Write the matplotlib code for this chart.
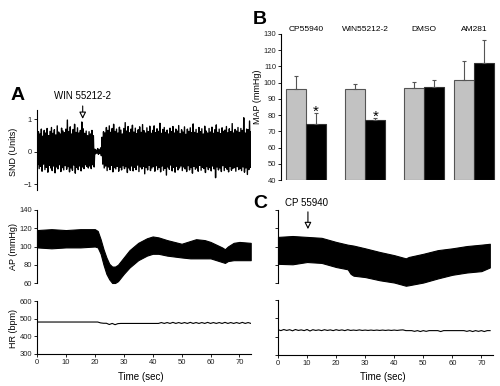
import numpy as np
import matplotlib
matplotlib.use('Agg')
import matplotlib.pyplot as plt

plt.rcParams['font.family'] = ['Liberation Sans', 'DejaVu Sans']

# ---- panel B data (MAP, mmHg) ----
groups = ['CP55940', 'WIN55212-2', 'DMSO', 'AM281']
group_pos = [0.0, 1.0, 1.99, 2.83]
map_before = [96.2, 96.0, 96.6, 101.8]
map_before_err = [8.0, 3.0, 4.0, 11.8]
map_after = [74.8, 76.8, 97.3, 112.2]
map_after_err = [6.8, 1.5, 4.5, 14.3]
significant = [True, True, False, False]

# ---- panel A: SND trace, peak/trough every 0.5 s ----
snd_high = [0.45, 0.62, 0.55, 0.70, 0.48, 0.66, 0.58, 0.72, 0.50, 0.63, 0.75, 0.57, 0.68, 0.52, 0.80, 0.61, 0.55, 0.73, 0.64, 0.59,
            0.70, 0.98, 0.62, 0.77, 0.55, 0.69, 0.85, 0.60, 0.74, 0.58, 0.66, 0.92, 0.71, 0.57, 0.64, 0.50, 0.62, 0.55, 0.66, 0.50,
            0.08, 0.05, 0.10, 0.06, 0.12, 0.45, 0.62, 0.58, 0.75, 0.66, 0.80, 0.60, 0.72, 0.85, 0.63, 0.70, 0.58, 0.76, 0.67, 0.55,
            0.72, 0.90, 0.64, 0.78, 0.59, 0.70, 0.82, 0.61, 0.73, 0.56, 0.68, 0.77, 0.60, 0.84, 0.65, 0.58, 0.74, 0.62, 0.79, 0.57,
            0.66, 0.80, 0.59, 0.71, 0.63, 0.88, 0.57, 0.69, 0.75, 0.60, 0.67, 0.55, 0.73, 0.62, 0.78, 0.58, 0.70, 0.64, 0.81, 0.56,
            0.68, 0.61, 0.77, 0.54, 0.70, 0.63, 0.74, 0.59, 0.86, 0.60, 0.69, 0.57, 0.75, 0.62, 0.71, 0.55, 0.79, 0.64, 0.58, 0.72,
            0.61, 0.76, 0.57, 0.68, 0.83, 0.60, 0.70, 0.56, 0.74, 0.63, 0.67, 0.78, 0.59, 0.71, 0.62, 0.87, 0.58, 0.69, 0.64, 0.75,
            0.60, 0.72, 0.66, 1.05, 0.58, 0.70, 0.68, 0.95, 0.62]
snd_low = [-0.40, -0.52, -0.45, -0.60, -0.38, -0.55, -0.48, -0.63, -0.42, -0.50, -0.58, -0.44, -0.65, -0.47, -0.53, -0.40, -0.61, -0.49, -0.56, -0.43,
           -0.54, -0.46, -0.62, -0.50, -0.57, -0.41, -0.66, -0.48, -0.55, -0.44, -0.59, -0.47, -0.52, -0.40, -0.45, -0.50, -0.44, -0.52, -0.40, -0.47,
           -0.06, -0.04, -0.08, -0.05, -0.12, -0.38, -0.50, -0.44, -0.58, -0.47, -0.55, -0.42, -0.62, -0.49, -0.53, -0.45, -0.60, -0.48, -0.56, -0.43,
           -0.52, -0.46, -0.64, -0.50, -0.57, -0.44, -0.59, -0.48, -0.55, -0.41, -0.61, -0.47, -0.53, -0.45, -0.68, -0.49, -0.56, -0.42, -0.58, -0.50,
           -0.46, -0.60, -0.43, -0.55, -0.49, -0.62, -0.44, -0.57, -0.51, -0.72, -0.47, -0.54, -0.41, -0.59, -0.48, -0.63, -0.45, -0.56, -0.50, -0.44,
           -0.58, -0.47, -0.53, -0.61, -0.43, -0.56, -0.49, -0.66, -0.45, -0.54, -0.50, -0.60, -0.42, -0.57, -0.48, -0.52, -0.64, -0.46, -0.55, -0.49,
           -0.59, -0.44, -0.53, -0.80, -0.47, -0.56, -0.50, -0.61, -0.43, -0.58, -0.48, -0.54, -0.62, -0.45, -0.57, -0.51, -0.49, -0.60, -0.46, -0.55,
           -0.52, -0.58, -0.47, -0.63, -0.50, -0.70, -0.55, -0.48, -0.60]

# ---- panel A: AP envelope (mmHg) ----
apA_t = [0, 5, 10, 15, 20, 21, 22, 23, 24, 25, 26, 27, 28, 30, 32, 35, 38, 40, 42, 45, 50, 53, 55, 58, 60, 62, 64, 65, 66, 68, 70, 73.9]
apA_hi = [118, 119, 118, 119, 119, 117, 108, 97, 88, 81, 78, 78, 80, 88, 96, 104, 109, 111, 110, 107, 103, 106, 108, 107, 105, 102, 99, 97, 100, 104, 105, 104]
apA_lo = [99, 98, 99, 99, 100, 99, 92, 80, 70, 64, 60, 60, 62, 70, 77, 85, 90, 92, 92, 90, 88, 87, 87, 87, 87, 85, 83, 82, 84, 85, 85, 85]

# ---- panel A: HR every 1 s (bpm) ----
hrA = [481, 481, 481, 481, 481, 481, 481, 481, 481, 481, 481, 481, 481, 481, 481, 481, 481, 481, 481, 481, 481, 481,
       476, 474, 474, 467, 473, 466, 472, 473, 473, 473, 473, 473, 473, 473, 473, 473, 473, 473, 473, 473, 473,
       478, 473, 478, 473, 479, 473, 478, 473, 478, 473, 479, 473, 478, 473, 478, 473, 479, 473, 478, 473, 478,
       473, 479, 473, 478, 473, 478, 473, 479, 473, 478, 473]

# ---- panel C: AP envelope (mmHg) ----
apC_t = [0, 5, 10, 15, 20, 24, 25, 26, 30, 35, 40, 44, 45, 50, 55, 60, 65, 70, 72.9]
apC_hi = [110.5, 111.5, 110.5, 109.5, 105, 102, 101.5, 101, 98, 94, 90.5, 87, 88.5, 92, 96, 98, 100.5, 102, 103]
apC_lo = [81, 80.5, 83, 82, 77.5, 75, 70, 68, 66.5, 63, 60.5, 57, 57.5, 60.5, 65, 69, 71.5, 73, 77]

# ---- panel C: HR every 1 s (bpm) ----
hrC = [438, 433, 439, 434, 438, 432, 439, 434, 437, 433, 439, 431, 438, 434, 437, 433, 438, 434, 437, 433,
       438, 434, 437, 433, 438, 434, 436, 434, 437, 434, 436, 434, 436, 434, 436, 434, 436, 434, 436, 434,
       436, 434, 436, 437, 433, 433, 433, 429, 433, 428, 433, 429, 433, 433, 433, 433, 428, 433, 433, 433,
       433, 433, 433, 433, 433, 429, 433, 428, 433, 429, 433, 428, 433, 433]

W, H = 500, 386


def box(x0, y0, x1, y1):
    return [x0 / W, 1 - y1 / H, (x1 - x0) / W, (y1 - y0) / H]


def style(ax, bottom=False):
    for s in ['top', 'right']:
        ax.spines[s].set_visible(False)
    ax.spines['bottom'].set_visible(bottom)
    ax.spines['left'].set_linewidth(0.8)
    ax.spines['bottom'].set_linewidth(0.8)
    ax.tick_params(labelsize=5.5, length=2, width=0.7, pad=1.5, colors='#222222')
    if not bottom:
        ax.tick_params(axis='x', bottom=False, labelbottom=False)
    ax.patch.set_alpha(0)


fig = plt.figure(figsize=(5, 3.86), dpi=100)

# SND
ax = fig.add_axes(box(37, 110, 251, 190))
t_snd = np.arange(len(snd_high)) * 0.5
xs = np.column_stack([t_snd, t_snd + 0.25]).ravel()
ys = np.column_stack([snd_high, snd_low]).ravel()
ax.plot(xs, ys, color='black', lw=1.0)
ax.set_xlim(0, 74)
ax.set_ylim(-1.18, 1.29)
ax.set_yticks([-1, 0, 1])
style(ax)
ax.annotate('', xy=(15.8, 0.93), xytext=(15.8, 1.5), annotation_clip=False,
            arrowprops=dict(arrowstyle='-|>', fc='white', ec='black', lw=0.8, mutation_scale=10))
ax.text(15.8, 1.72, 'WIN 55212-2', ha='center', va='center', fontsize=7)

# AP A
ax = fig.add_axes(box(37, 210, 251, 283))
ax.fill_between(apA_t, apA_lo, apA_hi, color='black', lw=0.8, clip_on=False)
ax.set_xlim(0, 74)
ax.set_ylim(60, 140)
ax.set_yticks([60, 80, 100, 120, 140])
style(ax)

# HR A
ax = fig.add_axes(box(37, 301, 251, 354))
ax.plot(np.arange(len(hrA)), hrA, color='black', lw=0.8)
ax.set_xlim(0, 74)
ax.set_ylim(300, 600)
ax.set_yticks([300, 400, 500, 600])
ax.set_xticks(range(0, 71, 10))
style(ax, bottom=True)

# AP C
ax = fig.add_axes(box(278, 210, 493, 283))
ax.fill_between(apC_t, apC_lo, apC_hi, color='black', lw=0.8, clip_on=False)
ax.set_xlim(0, 74)
ax.set_ylim(60, 140)
ax.set_yticks([60, 80, 100, 120, 140])
ax.set_yticklabels([])
style(ax)
ax.annotate('', xy=(10.3, 116), xytext=(10.3, 141), annotation_clip=False,
            arrowprops=dict(arrowstyle='-|>', fc='white', ec='black', lw=0.8, mutation_scale=10))
ax.text(9.8, 148, 'CP 55940', ha='center', va='center', fontsize=7)

# HR C
ax = fig.add_axes(box(278, 300, 493, 355))
ax.plot(np.arange(len(hrC)), hrC, color='black', lw=0.8)
ax.set_xlim(0, 74)
ax.set_ylim(300, 600)
ax.set_yticks([300, 400, 500, 600])
ax.set_yticklabels([])
ax.set_xticks(range(0, 71, 10))
style(ax, bottom=True)

# B bars
ax = fig.add_axes(box(281, 34, 500, 180))
bw = 0.34
xb = np.array(group_pos)
ax.bar(xb - bw / 2, np.array(map_before) - 40, bw, bottom=40, color='#c2c2c2', edgecolor='#555555', lw=0.8,
       yerr=[np.zeros(4), map_before_err], error_kw=dict(ecolor='#555555', elinewidth=0.8, capsize=1.5, capthick=0.8))
ax.bar(xb + bw / 2, np.array(map_after) - 40, bw, bottom=40, color='black', edgecolor='#333333', lw=0.8,
       yerr=[np.zeros(4), map_after_err], error_kw=dict(ecolor='#555555', elinewidth=0.8, capsize=1.5, capthick=0.8))
for x, v, e, s in zip(xb, map_after, map_after_err, significant):
    if s:
        ax.text(x + bw / 2, v + e + 0.5, '*', ha='center', va='center', fontsize=11)
for x, g in zip(xb, groups):
    ax.text(x, 133, g, ha='center', va='center', fontsize=6)
ax.set_xlim(-0.42, 3.27)
ax.set_ylim(40, 130)
ax.set_yticks(range(40, 131, 10))
style(ax)

# labels
fig.text(13 / W, 1 - 152 / H, 'SND (Units)', rotation=90, ha='center', va='center', fontsize=6.5)
fig.text(13 / W, 1 - 247 / H, 'AP (mmHg)', rotation=90, ha='center', va='center', fontsize=6.5)
fig.text(13 / W, 1 - 328 / H, 'HR (bpm)', rotation=90, ha='center', va='center', fontsize=6.5)
fig.text(257 / W, 1 - 97 / H, 'MAP (mmHg)', rotation=90, ha='center', va='center', fontsize=6.5)
fig.text(141 / W, 1 - 377 / H, 'Time (sec)', ha='center', va='center', fontsize=7)
fig.text(383 / W, 1 - 377 / H, 'Time (sec)', ha='center', va='center', fontsize=7)
fig.text(18 / W, 1 - 95 / H, 'A', ha='center', va='center', fontsize=14, fontweight='bold')
fig.text(260 / W, 1 - 20 / H, 'B', ha='center', va='center', fontsize=14, fontweight='bold')
fig.text(260 / W, 1 - 203 / H, 'C', ha='center', va='center', fontsize=14, fontweight='bold')

fig.savefig('out.png', dpi=100)
